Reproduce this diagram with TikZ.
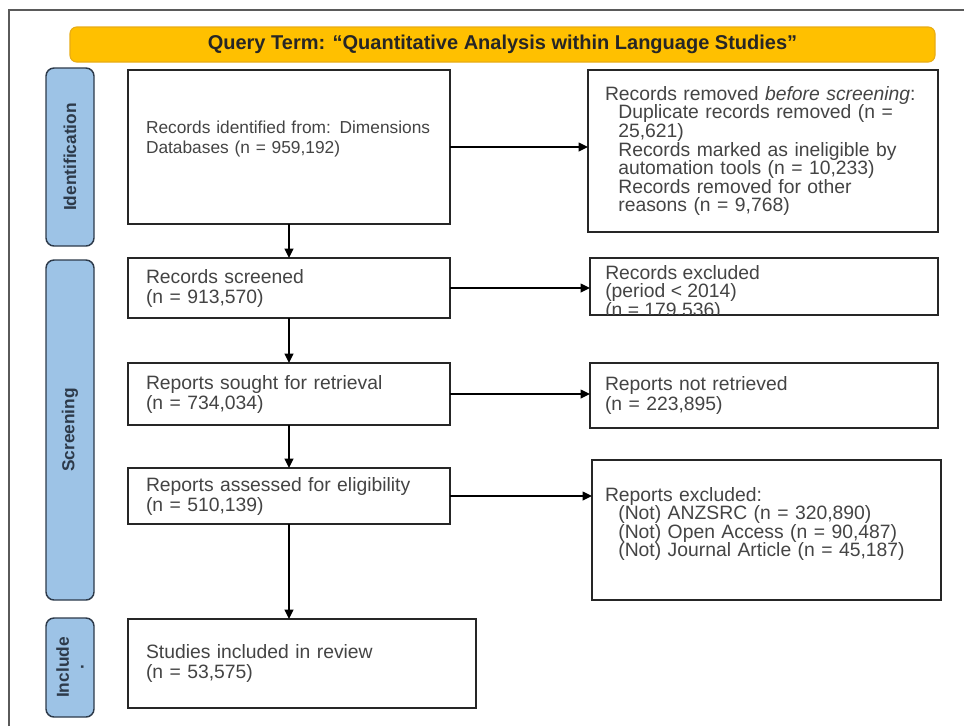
\documentclass[tikz,border=0pt]{standalone}
\usepackage{fontspec}
\setmainfont{Liberation Sans}
\usetikzlibrary{positioning,calc,arrows.meta}
\definecolor{prismagold}{RGB}{255,192,0}
\definecolor{prismagoldedge}{RGB}{232,172,20}
\definecolor{prismaphase}{RGB}{157,195,230}
\definecolor{prismaphaseedge}{RGB}{45,58,74}
\definecolor{prismatext}{RGB}{68,68,68}
\definecolor{prismaframe}{RGB}{90,90,90}
\newcommand{\ind}{\hspace*{10pt}}
\tikzset{
    prisma box/.style={
        rectangle,
        draw=black!85,
        line width=1.1pt,
        fill=white,
        inner xsep=13.5pt,
        inner ysep=0pt,
        outer sep=0pt,
        align=left,
        text=prismatext,
        font=\fontsize{14.5}{15}\selectfont,
    },
    prisma text/.style={inner sep=0pt, align=left, text=prismatext, font=\fontsize{14.5}{13.3}\selectfont},
    prisma phase/.style={
        rectangle,
        rounded corners=6pt,
        draw=prismaphaseedge,
        line width=1.1pt,
        fill=prismaphase,
        minimum height=36pt,
        inner sep=0pt,
        outer sep=0pt,
        align=center,
        text=prismaphaseedge,
        font=\bfseries\fontsize{13}{11}\selectfont,
    },
    flow/.style={->, line width=1.1pt, >={Triangle[length=7pt,width=6.5pt]}}
}

\begin{document}
\begin{tikzpicture}[x=0.75pt,y=-0.75pt]
\useasboundingbox (0,0) rectangle (964,726);

% page frame
\draw[prismaframe, line width=1pt] (9,726) -- (9,10) -- (964,10);

% query term
\node[rectangle, rounded corners=5pt, fill=prismagold, draw=prismagoldedge, line width=0.8pt,
      minimum width=648.75pt, minimum height=26.25pt, text=black!85,
      font=\bfseries\fontsize{15}{15}\selectfont] (query) at (502.5,44.5)
      {Query Term: “Quantitative Analysis within Language Studies”};

% phases
\node[prisma phase, rotate=90, minimum width=133.5pt] (identification) at (70,157) {Identification};
\node[prisma phase, rotate=90, minimum width=255pt] (screening) at (70,430) {Screening};
\node[prisma phase, rotate=90, minimum width=74.25pt] (include) at (70,667.5) {Include\\.};

% main column
\node[prisma box, text width=214.5pt, minimum height=115.5pt, font=\fontsize{13}{15}\selectfont] (identified) at (289,147)
      {Records identified from: Dimensions\\Databases (n = 959,192)\\\mbox{}};
\node[prisma box, text width=214.5pt, minimum height=45pt] (screened) at (289,288)
      {Records screened\\(n = 913,570)};
\node[prisma box, text width=214.5pt, minimum height=46.5pt] (sought) at (289,394)
      {Reports sought for retrieval\\(n = 734,034)};
\node[prisma box, text width=214.5pt, minimum height=42pt] (assessed) at (289,496)
      {Reports assessed for eligibility\\(n = 510,139)};
\node[prisma box, text width=234pt, minimum height=66.75pt] (included) at (302,663.5)
      {Studies included in review\\(n = 53,575)};

% side column
\node[prisma box, inner xsep=12.75pt, text width=237pt, minimum height=121.5pt, font=\fontsize{14.5}{13.9}\selectfont] (removed) at (763,151)
      {Records removed \textit{before screening}:\\\ind Duplicate records removed (n =\\\ind 25,621)\\\ind Records marked as ineligible by\\\ind automation tools (n = 10,233)\\\ind Records removed for other\\\ind reasons (n = 9,768)};
\node[prisma box, minimum width=261pt, minimum height=42.75pt] (excluded) at (764,286.5) {};
\begin{scope}
\clip ($(excluded.south west)+(1,-1)$) rectangle ($(excluded.north east)+(-1,1)$);
\node[prisma text, anchor=north west] (excludedtext) at ($(excluded.north west)+(15,7)$)
      {Records excluded\\(period < 2014)\\(n = 179,536)};
\end{scope}
\node[prisma box, inner xsep=11.25pt, text width=238.5pt, minimum height=48.75pt] (notretrieved) at (764,395.5)
      {Reports not retrieved\\(n = 223,895)};
\node[prisma box, inner xsep=9.75pt, text width=242.25pt, minimum height=105pt, font=\fontsize{14.5}{13.9}\selectfont] (reportsexcl) at (766.5,530)
      {Reports excluded:\\\ind (Not) ANZSRC (n = 320,890)\\\ind (Not) Open Access (n = 90,487)\\\ind (Not) Journal Article (n = 45,187)\\[-2pt]\mbox{}};

% arrows
\draw[flow] (identified) -- (screened);
\draw[flow] (screened) -- (sought);
\draw[flow] (sought) -- (assessed);
\draw[flow] (assessed.south) -- (assessed.south |- included.north);
\draw[flow] (identified.east) -- (identified.east -| removed.west);
\draw[flow] (screened.east) -- (screened.east -| excluded.west);
\draw[flow] (sought.east) -- (sought.east -| notretrieved.west);
\draw[flow] (assessed.east) -- (assessed.east -| reportsexcl.west);

\end{tikzpicture}
\end{document}
